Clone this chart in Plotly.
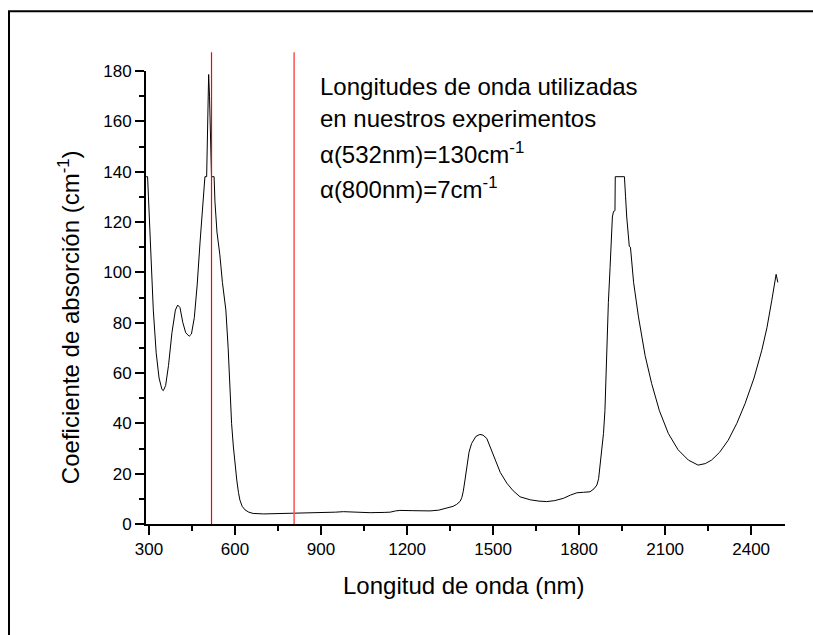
import plotly.graph_objects as go

# ---- data ----
wavelength_nm = [290, 295, 298, 305, 315, 325, 335, 345, 350, 358, 368, 380, 392, 400, 408, 418, 428, 440,
                 448, 458, 468, 478, 488, 495, 501, 505, 508, 511, 515, 518, 527, 530, 537, 547, 556, 568,
                 576, 582, 588, 594, 600, 606, 612, 617, 625, 635, 648, 663, 700, 750, 800, 850, 900, 950,
                 978, 1000, 1040, 1071, 1120, 1141, 1160, 1175, 1220, 1280, 1310, 1338, 1360, 1373, 1385,
                 1391, 1396, 1402, 1408, 1416, 1425, 1440, 1454, 1465, 1478, 1492, 1507, 1525, 1548, 1570,
                 1594, 1630, 1660, 1687, 1715, 1745, 1770, 1792, 1815, 1838, 1852, 1862, 1868, 1873, 1879,
                 1885, 1890, 1896, 1902, 1908, 1916, 1920, 1925, 1926, 1958, 1962, 1966, 1975, 1979, 1990,
                 2007, 2030, 2053, 2080, 2111, 2145, 2181, 2215, 2240, 2262, 2290, 2320, 2350, 2379, 2410,
                 2437, 2455, 2472, 2487, 2493]
absorption_cm = [138, 138, 130, 109, 85, 68, 58, 53.5, 53, 55, 63, 76, 85, 87, 86, 80, 76, 74.6,
                 75.5, 82, 95, 112, 130, 138, 138, 158, 178.6, 170, 150, 138, 138, 128, 116, 107, 96, 85,
                 70, 52, 40, 31, 23, 17.5, 12.5, 9.5, 7, 5.6, 4.7, 4.2, 4.0, 4.1, 4.2, 4.3, 4.5, 4.7,
                 4.9, 4.8, 4.6, 4.5, 4.6, 4.7, 5.2, 5.4, 5.3, 5.2, 5.5, 6.2, 7.0, 7.8, 9.0,
                 10.5, 13, 17.5, 22.7, 28.5, 32, 34.8, 35.6, 35.3, 34, 30, 25.4, 20.5, 16.2, 13.2,
                 10.8, 9.6, 9.1, 8.9, 9.3, 10.2, 11.5, 12.4, 12.6, 12.8, 14, 15.5, 18, 22.7, 29.4,
                 36, 45, 69, 88, 102, 122, 124.2, 124.5, 138, 138, 130, 122, 110.3, 110, 96,
                 82.3, 67, 55.8, 45, 36, 29.5, 25.4, 23.4, 24, 25.4, 28.5, 33.3, 40, 47.9, 58,
                 69, 78, 88.9, 99.2, 96]
laser_lines_nm = [518, 806]
x_ticks = [300, 600, 900, 1200, 1500, 1800, 2100, 2400]
y_ticks = [0, 20, 40, 60, 80, 100, 120, 140, 160, 180]
note_lines = ["Longitudes de onda utilizadas",
              "en nuestros experimentos",
              "α(532nm)=130cm<sup>-1</sup>",
              "α(800nm)=7cm<sup>-1</sup>"]

# ---- layout geometry (pixels) ----
W, H = 813, 635
L, R, T, B = 146, 785, 70.7, 524
FONT = "Liberation Sans, Arial, sans-serif"


def px_x(px):
    return (px - L) / (R - L)


def px_y(py):
    return (B - py) / (B - T)


fig = go.Figure()
fig.add_trace(go.Scatter(x=wavelength_nm, y=absorption_cm, mode="lines",
                         line=dict(color="black", width=1), hoverinfo="skip", showlegend=False))

shapes = []
line_colors = ["#ff0000", "#ff5a5a"]
line_widths = [1.2, 1.6]
for wl, c, w in zip(laser_lines_nm, line_colors, line_widths):
    shapes.append(dict(type="line", xref="x", yref="paper", x0=wl, x1=wl, y0=0, y1=px_y(52),
                       line=dict(color=c, width=w)))
# outer frame (cropped at right and bottom)
shapes.append(dict(type="line", xref="paper", yref="paper", x0=px_x(8), x1=px_x(813),
                   y0=px_y(11), y1=px_y(11), line=dict(color="black", width=2)))
shapes.append(dict(type="line", xref="paper", yref="paper", x0=px_x(9), x1=px_x(9),
                   y0=px_y(11), y1=px_y(635), line=dict(color="black", width=2)))

annotations = []
note_y = [86, 118, 153, 188]
for txt, yy in zip(note_lines, note_y):
    annotations.append(dict(text=txt, xref="paper", yref="paper", x=px_x(318), y=px_y(yy),
                            xanchor="left", yanchor="middle", showarrow=False,
                            font=dict(family=FONT, size=24, color="black")))
annotations.append(dict(text="Longitud de onda (nm)", xref="paper", yref="paper",
                        x=px_x(464), y=px_y(586), xanchor="center", yanchor="middle",
                        showarrow=False, font=dict(family=FONT, size=24, color="black")))
annotations.append(dict(text="Coeficiente de absorción (cm<sup>-1</sup>)", xref="paper", yref="paper",
                        x=px_x(69), y=px_y(317), xanchor="center", yanchor="middle", textangle=-90,
                        showarrow=False, font=dict(family=FONT, size=24, color="black")))

fig.update_layout(
    width=W, height=H,
    margin=dict(l=L, r=W - R, t=T, b=H - B, pad=0),
    paper_bgcolor="white", plot_bgcolor="white",
    font=dict(family=FONT, size=17, color="black"),
    shapes=shapes, annotations=annotations,
    xaxis=dict(range=[289.5, 2518], tickvals=x_ticks, ticktext=[str(v) for v in x_ticks],
               showgrid=False, zeroline=False, showline=True, linecolor="black", linewidth=2,
               ticks="outside", ticklen=9, tickwidth=1.5, tickcolor="black",
               minor=dict(tickvals=[450, 750, 1050, 1350, 1650, 1950, 2250], ticks="outside",
                          ticklen=5, tickwidth=1.5, tickcolor="black"),
               tickfont=dict(size=17)),
    yaxis=dict(range=[0, 180], tickvals=y_ticks, ticktext=[str(v) for v in y_ticks],
               showgrid=False, zeroline=False, showline=True, linecolor="black", linewidth=2,
               ticks="outside", ticklen=9, tickwidth=1.5, tickcolor="black",
               minor=dict(tickvals=[10, 30, 50, 70, 90, 110, 130, 150, 170], ticks="outside",
                          ticklen=5, tickwidth=1.5, tickcolor="black"),
               tickfont=dict(size=17)),
)

fig.write_html("out.html", config={"displayModeBar": False},
               post_script=("document.body.style.margin='0';document.body.style.overflow='hidden';"
                            "document.documentElement.style.overflow='hidden';"))
